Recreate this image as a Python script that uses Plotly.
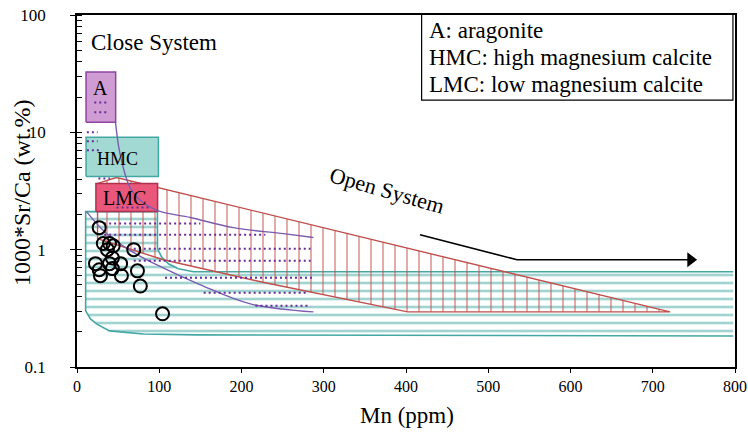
import numpy as np
import plotly.graph_objects as go

# ---------------- data (Mn in ppm, 1000*Sr/Ca in wt.%) ----------------
sample_mn = [27, 32, 39.5, 44, 37, 69, 22.5, 43, 39.5, 53, 27, 28.5, 43, 54, 73.5, 77, 104]
sample_srca = [1.54, 1.13, 1.13, 1.08, 1.0, 1.0, 0.76, 0.85, 0.76, 0.76, 0.675, 0.60, 0.69, 0.60, 0.66, 0.49, 0.284]

# reference fields: [min, max]
arag_mn = [11, 47]
arag_srca = [12.2, 32.6]
hmc_mn = [11, 99]
hmc_srca = [4.2, 9.1]
lmc_mn = [23, 98]
lmc_srca = [2.11, 3.67]

# open-system (hatched red) field outline
open_mn = [48, 721, 402, 223, 105, 25, 25, 48]
open_srca = [4.12, 0.295, 0.295, 0.533, 0.821, 1.24, 3.67, 4.12]

# diagenetic (teal) field outline
diag_mn = [10.5, 97.8, 97.8, 102.7, 111.2, 123.3, 141.6, 797.8, 797.8, 145.2, 80.8, 39.5, 23.7, 16.4, 10.5]
diag_srca = [2.11, 2.11, 1.02, 0.871, 0.759, 0.688, 0.649, 0.649, 0.184, 0.188, 0.191, 0.203, 0.233, 0.257, 0.301]

# purple trend curves
curve1_mn = [46.8, 50.4, 54.1, 58.9, 65.0, 77.2, 97.8, 137.9, 190.2, 250.9, 287.4]
curve1_srca = [12.18, 7.74, 5.76, 4.29, 3.32, 2.62, 2.15, 1.88, 1.54, 1.37, 1.27]
curve2_mn = [11.5, 34.6, 65.0, 101.5, 150.1, 210.8, 287.4]
curve2_srca = [2.11, 1.40, 0.98, 0.716, 0.502, 0.345, 0.295]

# dotted purple segments
dot_srca = [18.0, 14.8, 10.0, 8.38, 7.02, 4.04, 2.29, 1.67, 1.34, 1.02, 0.805, 0.576, 0.429, 0.332]
dot_mn_start = [21, 21, 12, 12, 12, 26, 48, 33, 33, 69, 69, 107, 154, 217]
dot_mn_end = [36, 36, 25, 25, 27, 40, 88, 150, 229, 284, 284, 286, 280, 284]

# open-system arrow
arrow_mn = [417, 535, 746]
arrow_srca = [1.34, 0.82, 0.82]

legend_lines = ["A: aragonite", "HMC: high magnesium calcite", "LMC: low magnesium calcite"]
legend_box_mn = [419, 419, 797.5, 797.5]
legend_box_srca = [100, 18.8, 18.8, 100]

# ---------------- styles ----------------
SERIF = "Liberation Serif"
TEAL = "#43a8a4"
RED = "#c0504d"
PURPLE = "#7b5cae"
DOTC = "#6a2c9a"

fig = go.Figure()

# teal diagenetic field (horizontal hatching)
fig.add_trace(go.Scatter(
    x=diag_mn, y=diag_srca, mode="lines", fill="toself",
    fillcolor="rgba(0,0,0,0)", line=dict(width=0, color=TEAL),
    fillpattern=dict(shape="-", fgcolor=TEAL, bgcolor="rgba(255,255,255,0)",
                     size=8, solidity=0.33, fillmode="overlay"),
    hoverinfo="skip", showlegend=False))
out_x = diag_mn[7::-1] + diag_mn[:7:-1]
out_y = diag_srca[7::-1] + diag_srca[:7:-1]
fig.add_trace(go.Scatter(x=out_x, y=out_y, mode="lines",
                         line=dict(color=TEAL, width=1.6), hoverinfo="skip", showlegend=False))

# red open-system field (vertical hatching)
fig.add_trace(go.Scatter(
    x=open_mn, y=open_srca, mode="lines", fill="toself",
    fillcolor="rgba(0,0,0,0)", line=dict(width=1.4, color=RED),
    fillpattern=dict(shape="|", fgcolor=RED, bgcolor="rgba(255,255,255,0)",
                     size=12, solidity=0.16, fillmode="overlay"),
    hoverinfo="skip", showlegend=False))


def box(xr, yr, fill, border):
    fig.add_trace(go.Scatter(
        x=[xr[0], xr[1], xr[1], xr[0], xr[0]],
        y=[yr[0], yr[0], yr[1], yr[1], yr[0]],
        mode="lines", fill="toself", fillcolor=fill,
        line=dict(color=border, width=1.5), hoverinfo="skip", showlegend=False))


box(hmc_mn, hmc_srca, "#a3d9d3", TEAL)
box(arag_mn, arag_srca, "#cf9dd3", "#8e44a0")
box(lmc_mn, lmc_srca, "#e9587a", "#b03050")

# purple curves
fig.add_trace(go.Scatter(x=curve1_mn, y=curve1_srca, mode="lines", line=dict(color=PURPLE, width=1.4, shape="spline"),
                         hoverinfo="skip", showlegend=False))
fig.add_trace(go.Scatter(x=curve2_mn, y=curve2_srca, mode="lines", line=dict(color=PURPLE, width=1.4, shape="spline"),
                         hoverinfo="skip", showlegend=False))

# dotted segments
dx, dy = [], []
for yv, a, b in zip(dot_srca, dot_mn_start, dot_mn_end):
    dx += [a, b, None]
    dy += [yv, yv, None]
fig.add_trace(go.Scatter(x=dx, y=dy, mode="lines", line=dict(color=DOTC, width=2, dash="2px,3px"),
                         hoverinfo="skip", showlegend=False))

# arrow
fig.add_trace(go.Scatter(x=arrow_mn, y=arrow_srca, mode="lines", line=dict(color="black", width=1.6),
                         hoverinfo="skip", showlegend=False))
fig.add_trace(go.Scatter(x=[arrow_mn[-1]], y=[arrow_srca[-1]], mode="markers",
                         marker=dict(symbol="triangle-right", size=13, color="black"),
                         hoverinfo="skip", showlegend=False))

# samples
fig.add_trace(go.Scatter(x=sample_mn, y=sample_srca, mode="markers",
                         marker=dict(symbol="circle-open", size=13, color="black", line=dict(width=2)),
                         showlegend=False))

# legend box
fig.add_trace(go.Scatter(x=legend_box_mn, y=legend_box_srca, mode="lines", line=dict(color="black", width=1.2),
                         cliponaxis=False, hoverinfo="skip", showlegend=False))

ann = []
for i, t in enumerate(legend_lines):
    ann.append(dict(x=426, y=[1.872, 1.641, 1.410][i], xref="x", yref="y", text=t, showarrow=False,
                    xanchor="left", yanchor="middle", font=dict(family=SERIF, size=23, color="black")))
ann += [
    dict(x=14, y=1.769, xref="x", yref="y", text="Close System", showarrow=False, xanchor="left",
         font=dict(family=SERIF, size=23, color="black")),
    dict(x=np.mean(arag_mn), y=1.376, xref="x", yref="y", text="A", showarrow=False,
         font=dict(family=SERIF, size=20, color="black")),
    dict(x=49, y=0.769, xref="x", yref="y", text="HMC", showarrow=False,
         font=dict(family=SERIF, size=18, color="black")),
    dict(x=58, y=0.444, xref="x", yref="y", text="LMC", showarrow=False,
         font=dict(family=SERIF, size=20, color="black")),
    dict(x=377, y=0.504, xref="x", yref="y", text="Open System", showarrow=False, textangle=16,
         font=dict(family=SERIF, size=22, color="black")),
    # axis titles
    dict(x=0.5015, y=-0.139, xref="paper", yref="paper", text="Mn (ppm)", showarrow=False,
         xanchor="center", yanchor="middle", font=dict(family=SERIF, size=23, color="black")),
    dict(x=-0.0836, y=0.497, xref="paper", yref="paper", text="1000*Sr/Ca (wt.%)", showarrow=False,
         textangle=-90, xanchor="center", yanchor="middle", font=dict(family=SERIF, size=24, color="black")),
]

fig.update_layout(
    width=748, height=434,
    margin=dict(l=77, r=13, t=15, b=67, autoexpand=False),
    paper_bgcolor="white", plot_bgcolor="white",
    font=dict(family=SERIF, color="black"),
    annotations=ann,
    xaxis=dict(range=[0, 800], dtick=100, ticks="outside", ticklen=4, tickcolor="black",
               showline=True, linecolor="black", linewidth=1.5, mirror=True,
               showgrid=False, zeroline=False, automargin=False, ticklabeloverflow="allow",
               tickfont=dict(family=SERIF, size=16, color="black")),
    yaxis=dict(type="log", range=[-1, 2], dtick=1, ticks="outside", ticklen=5, tickcolor="black",
               showline=True, linecolor="black", linewidth=1.5, mirror=True,
               showgrid=False, zeroline=False, ticklabelstandoff=21, automargin=False,
               ticklabeloverflow="allow",
               minor=dict(ticks="inside", ticklen=5, dtick="D1", tickcolor="black", showgrid=False),
               tickfont=dict(family=SERIF, size=17, color="black")),
    xaxis2=dict(overlaying="x", range=[0, 800], dtick=100, ticks="inside", ticklen=4, tickcolor="black",
                showticklabels=False, showgrid=False, zeroline=False, showline=False, automargin=False),
    yaxis2=dict(overlaying="y", type="log", range=[-1, 2], dtick=1, ticks="inside", ticklen=5, tickcolor="black",
                showticklabels=False, showgrid=False, zeroline=False, showline=False, automargin=False),
)

# remove the default page margin so the figure fills the 748x434 window exactly
fig.write_html("out.html", config={"displayModeBar": False},
               post_script="document.body.style.margin='0px';document.body.style.overflow='hidden';")
